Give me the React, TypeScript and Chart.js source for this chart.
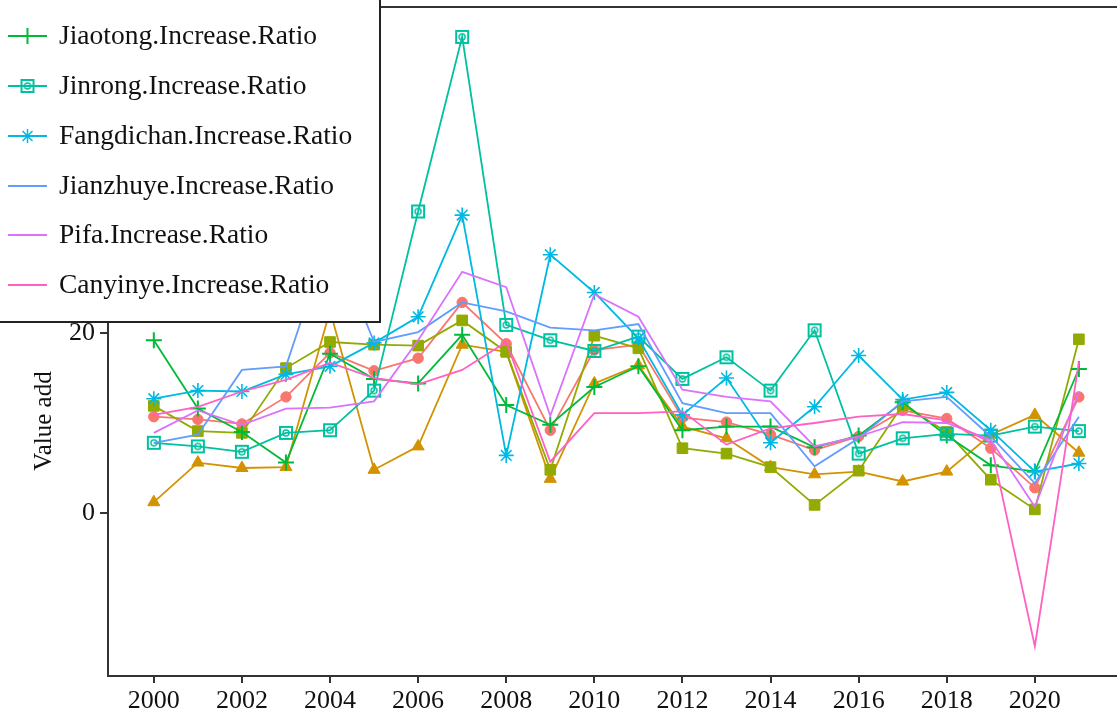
import React, { useEffect, useRef } from 'react';
import { Chart, registerables } from 'chart.js';

Chart.register(...registerables);

const years = [2000, 2001, 2002, 2003, 2004, 2005, 2006, 2007, 2008, 2009, 2010, 2011, 2012, 2013, 2014, 2015, 2016, 2017, 2018, 2019, 2020, 2021];
const xTickValues = [2000, 2002, 2004, 2006, 2008, 2010, 2012, 2014, 2016, 2018, 2020];
const yTickValues = [0, 20, 40];

// three series whose legend entries sit above the visible part of the legend box
const hiddenCircle = [10.7, 10.4, 9.9, 12.9, 17.8, 15.8, 17.2, 23.4, 18.8, 9.2, 18.1, 18.7, 10.6, 10.1, 8.7, 7.0, 8.5, 11.4, 10.5, 7.2, 2.8, 12.9];
const hiddenTriangle = [1.2, 5.6, 5.0, 5.1, 22.5, 4.8, 7.4, 18.7, 17.9, 3.8, 14.4, 16.4, 9.6, 8.3, 5.1, 4.3, 4.6, 3.5, 4.6, 8.7, 10.9, 6.7];
const hiddenSquare = [11.9, 9.1, 8.9, 16.1, 19.0, 18.7, 18.6, 21.4, 17.9, 4.8, 19.7, 18.3, 7.2, 6.6, 5.1, 0.9, 4.7, 12.0, 9.0, 3.7, 0.4, 19.3];

const jiaotong = [19.2, 11.6, 9.0, 5.6, 17.7, 14.9, 14.4, 19.8, 12.0, 9.8, 14.0, 16.3, 9.2, 9.6, 9.6, 7.3, 8.6, 12.3, 8.6, 5.3, 4.6, 16.0];
const jinrong = [7.8, 7.4, 6.8, 8.9, 9.2, 13.6, 33.5, 52.9, 20.9, 19.2, 18.0, 19.6, 14.9, 17.3, 13.6, 20.3, 6.6, 8.3, 8.8, 8.6, 9.6, 9.1];
const fangdichan = [12.7, 13.6, 13.5, 15.4, 16.3, 18.9, 21.8, 33.1, 6.4, 28.7, 24.5, 19.4, 10.9, 15.0, 7.8, 11.8, 17.5, 12.6, 13.4, 9.2, 4.6, 5.5];
const jianzhuye = [7.8, 8.7, 15.9, 16.3, 31.0, 19.0, 20.1, 23.4, 22.4, 20.6, 20.3, 21.0, 12.2, 11.1, 11.1, 5.2, 8.3, 12.4, 12.9, 8.5, 3.3, 10.7];
const pifa = [8.9, 11.4, 9.8, 11.6, 11.7, 12.4, 19.2, 26.8, 25.1, 10.8, 24.3, 21.8, 13.7, 12.9, 12.4, 7.4, 8.5, 10.1, 10.0, 8.1, 0.7, 13.5];
const canyinye = [10.9, 11.8, 13.5, 14.8, 16.7, 15.0, 14.3, 15.9, 19.0, 5.7, 11.1, 11.1, 11.3, 7.6, 9.4, 10.0, 10.7, 11.0, 10.3, 7.8, -14.8, 16.8];

const legendNames = [
  'Jiaotong.Increase.Ratio',
  'Jinrong.Increase.Ratio',
  'Fangdichan.Increase.Ratio',
  'Jianzhuye.Increase.Ratio',
  'Pifa.Increase.Ratio',
  'Canyinye.Increase.Ratio',
];
const yTitle = 'Value add';

const COLORS = ['#F8766D', '#D39200', '#93AA00', '#00BA38', '#00C19F', '#00B9E3', '#619CFF', '#DB72FB', '#FF61C3'];

function makeSquareCircle(color: string) {
  const c = document.createElement('canvas');
  c.width = 16;
  c.height = 16;
  const g = c.getContext('2d')!;
  g.strokeStyle = color;
  g.lineWidth = 2;
  g.strokeRect(2, 2, 12, 12);
  g.lineWidth = 1.5;
  g.beginPath();
  g.arc(8, 8, 3, 0, Math.PI * 2);
  g.stroke();
  return c;
}

function drawMarker(ctx: CanvasRenderingContext2D, kind: string, x: number, y: number, color: string, img?: HTMLCanvasElement) {
  ctx.save();
  ctx.strokeStyle = color;
  ctx.fillStyle = color;
  if (kind === 'cross') {
    ctx.lineWidth = 2;
    ctx.beginPath();
    ctx.moveTo(x - 8, y); ctx.lineTo(x + 8, y);
    ctx.moveTo(x, y - 8); ctx.lineTo(x, y + 8);
    ctx.stroke();
  } else if (kind === 'star') {
    ctx.lineWidth = 1.5;
    const r = 7;
    const d = r * Math.SQRT1_2;
    ctx.beginPath();
    ctx.moveTo(x - r, y); ctx.lineTo(x + r, y);
    ctx.moveTo(x, y - r); ctx.lineTo(x, y + r);
    ctx.moveTo(x - d, y - d); ctx.lineTo(x + d, y + d);
    ctx.moveTo(x - d, y + d); ctx.lineTo(x + d, y - d);
    ctx.stroke();
  } else if (kind === 'img' && img) {
    ctx.drawImage(img, x - img.width / 2, y - img.height / 2);
  }
  ctx.restore();
}

export default function App() {
  const ref = useRef<HTMLCanvasElement | null>(null);

  useEffect(() => {
    document.body.style.margin = '0';
    const canvas = ref.current;
    if (!canvas) return;

    const sqCircle = makeSquareCircle(COLORS[4]);

    const mk = (label: string, data: number[], color: string, style: any, radius: number, bw: number) => ({
      label,
      data: years.map((yr, i) => ({ x: yr, y: data[i] })),
      borderColor: color,
      backgroundColor: color,
      borderWidth: 1.8,
      pointStyle: style,
      pointRadius: radius,
      pointBorderWidth: bw,
      pointBorderColor: color,
      pointBackgroundColor: color,
      tension: 0,
    });

    const datasets: any[] = [
      mk('Hidden.1', hiddenCircle, COLORS[0], 'circle', 5.2, 1),
      mk('Hidden.2', hiddenTriangle, COLORS[1], 'triangle', 7, 1),
      mk('Hidden.3', hiddenSquare, COLORS[2], 'rect', 7.5, 1),
      mk(legendNames[0], jiaotong, COLORS[3], 'cross', 8, 2),
      mk(legendNames[1], jinrong, COLORS[4], sqCircle, 8, 1),
      mk(legendNames[2], fangdichan, COLORS[5], 'star', 7.5, 1.6),
      mk(legendNames[3], jianzhuye, COLORS[6], 'circle', 0, 0),
      mk(legendNames[4], pifa, COLORS[7], 'circle', 0, 0),
      mk(legendNames[5], canyinye, COLORS[8], 'circle', 0, 0),
    ];
    datasets.forEach((d, i) => (d.order = datasets.length - i));

    const legendKinds = [
      { kind: 'cross', color: COLORS[3] },
      { kind: 'img', color: COLORS[4] },
      { kind: 'star', color: COLORS[5] },
      { kind: 'none', color: COLORS[6] },
      { kind: 'none', color: COLORS[7] },
      { kind: 'none', color: COLORS[8] },
    ];

    const framePlugin = {
      id: 'frame',
      afterDraw(chart: any) {
        const { ctx, chartArea } = chart;
        ctx.save();
        // plot frame
        ctx.strokeStyle = '#333';
        ctx.lineWidth = 2;
        ctx.strokeRect(chartArea.left, chartArea.top, chartArea.right - chartArea.left + 4, chartArea.bottom - chartArea.top);
        // y title
        ctx.save();
        ctx.translate(51, 421);
        ctx.rotate(-Math.PI / 2);
        ctx.fillStyle = '#111';
        ctx.font = '25px "Liberation Serif"';
        ctx.textAlign = 'center';
        ctx.textBaseline = 'alphabetic';
        ctx.fillText(yTitle, 0, 0);
        ctx.restore();
        // legend box
        ctx.fillStyle = '#fff';
        ctx.fillRect(-10, -10, 390, 332);
        ctx.strokeStyle = '#222';
        ctx.lineWidth = 2;
        ctx.strokeRect(-10, -10, 390, 332);
        const rowY = [36, 86, 136, 186, 235, 285];
        ctx.font = '27.5px "Liberation Serif"';
        ctx.textBaseline = 'middle';
        ctx.textAlign = 'left';
        legendNames.forEach((name, i) => {
          const y = rowY[i];
          const { kind, color } = legendKinds[i];
          ctx.strokeStyle = color;
          ctx.lineWidth = 2;
          ctx.beginPath();
          ctx.moveTo(8, y);
          ctx.lineTo(47, y);
          ctx.stroke();
          if (kind !== 'none') drawMarker(ctx, kind, 27.5, y, color, sqCircle);
          ctx.fillStyle = '#111';
          ctx.fillText(name, 59, y + 1);
        });
        ctx.restore();
      },
    };

    const chart = new Chart(canvas, {
      type: 'line',
      data: { datasets },
      options: {
        animation: false,
        responsive: false,
        maintainAspectRatio: false,
        layout: { autoPadding: false, padding: { top: 7, right: 0, left: 0, bottom: 0 } },
        plugins: { legend: { display: false }, tooltip: { enabled: false }, title: { display: false } },
        scales: {
          x: {
            type: 'linear',
            min: 1998.96,
            max: 2021.865,
            afterBuildTicks: (s: any) => { s.ticks = xTickValues.map((v) => ({ value: v })); },
            afterFit: (s: any) => {
              s.height = 41;
              s.paddingLeft = 0;
              s.paddingRight = 0;
              s.paddingTop = 0;
              s.paddingBottom = 0;
            },
            grid: { drawOnChartArea: false, drawTicks: true, tickLength: 7, color: '#333', lineWidth: 2 },
            border: { display: false },
            ticks: {
              autoSkip: false,
              maxRotation: 0,
              padding: 3,
              color: '#111',
              font: { family: '"Liberation Serif"', size: 26 },
              callback: (v: any) => String(v),
            },
          },
          y: {
            type: 'linear',
            min: -18.11,
            max: 56.22,
            afterBuildTicks: (s: any) => { s.ticks = yTickValues.map((v) => ({ value: v })); },
            afterFit: (s: any) => {
              s.width = 108;
              s.paddingLeft = 0;
              s.paddingRight = 0;
              s.paddingTop = 0;
              s.paddingBottom = 0;
            },
            grid: { drawOnChartArea: false, drawTicks: true, tickLength: 8, color: '#333', lineWidth: 2 },
            border: { display: false },
            ticks: {
              padding: 5,
              color: '#111',
              font: { family: '"Liberation Serif"', size: 26 },
              callback: (v: any) => String(v),
            },
          },
        },
      },
      plugins: [framePlugin],
    });

    return () => chart.destroy();
  }, []);

  return (
    <div style={{ width: 1117, height: 717, position: 'relative', background: '#fff' }}>
      <canvas ref={ref} width={1117} height={717} style={{ display: 'block' }} />
    </div>
  );
}
